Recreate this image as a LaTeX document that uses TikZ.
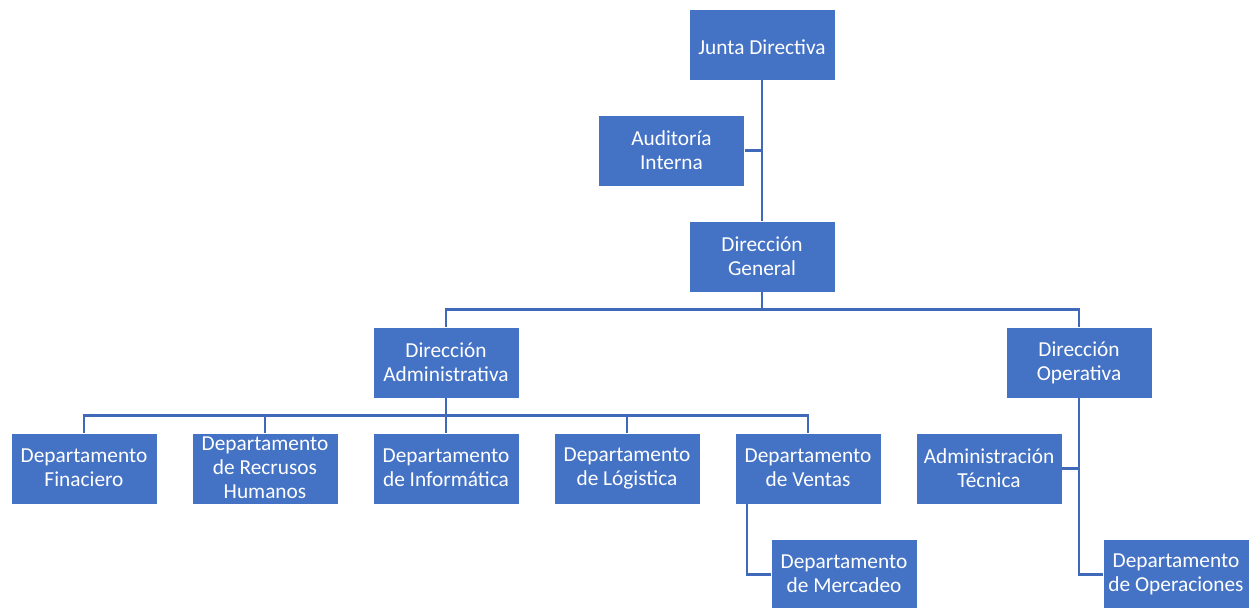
\documentclass[tikz,border=0pt]{standalone}
\usepackage{fontspec}
\setmainfont{Carlito}
\usepackage{xcolor}
\usepackage{tikz}
\usetikzlibrary{positioning,calc}

\definecolor{orgblue}{HTML}{4472C4}
\definecolor{orgline}{HTML}{4169B9}
\newcommand{\unitstrut}{\rule[-1pt]{0pt}{16.4pt}}

\begin{document}
\begin{tikzpicture}[
  x=0.75pt, y=0.75pt,
  node distance=26.25pt,
  unit/.style={draw=white, line width=0.4pt, fill=orgblue, rectangle, minimum width=109.5pt, minimum height=53.25pt, inner sep=0pt, outer sep=0pt, align=center, text=white, font=\fontsize{16}{18}\selectfont, execute at begin node=\unitstrut, execute at end node=\unitstrut},
  link/.style={draw=orgline, line width=1.7pt}
]
\useasboundingbox (0,0) rectangle (1249,-607);
% top of the chart
\node[unit] (junta) at (762,-44.5) {Junta Directiva};
\node[unit] (aud) at (671.5,-150.5) {Auditoría\\Interna};
\node[unit] (dgen) at (762,-256.5) {Dirección\\General};
% second level
\node[unit] (dop) at (1079,-362.5) {Dirección\\Operativa};
% departments
\node[unit] (fin) at (84,-468.5) {Departamento\\Finaciero};
\node[unit, right=of fin] (rrhh) {Departamento\\de Recrusos\\Humanos};
\node[unit, right=of rrhh] (inf) {Departamento\\de Informática};
\node[unit, right=of inf] (log) {Departamento\\de Lógistica};
\node[unit, right=of log] (ven) {Departamento\\de Ventas};
\node[unit, above=of inf] (dadm) {Dirección\\Administrativa};
\node[unit, right=of ven] (admtec) {Administración\\Técnica};
\node[unit] (merc) at (844,-574.5) {Departamento\\de Mercadeo};
\node[unit] (oper) at (1176,-574.5) {Departamento\\de Operaciones};

\draw[link] (junta) -- (dgen);
\draw[link] (aud.east) -- (aud.east -| junta.south);
\foreach \d in {dadm,dop}
  \draw[link] (dgen.south) -- ++(0,-17.5) -| (\d.north);
\foreach \d in {fin,rrhh,inf,log,ven}
  \draw[link] (dadm.south) -- ++(0,-17.5) -| (\d.north);
\draw[link] (ven.south west) ++(12,0) |- (merc.west);
\draw[link] (dop.south) |- (oper.west);
\draw[link] (admtec.east) -- (admtec.east -| dop.south);
\end{tikzpicture}
\end{document}
